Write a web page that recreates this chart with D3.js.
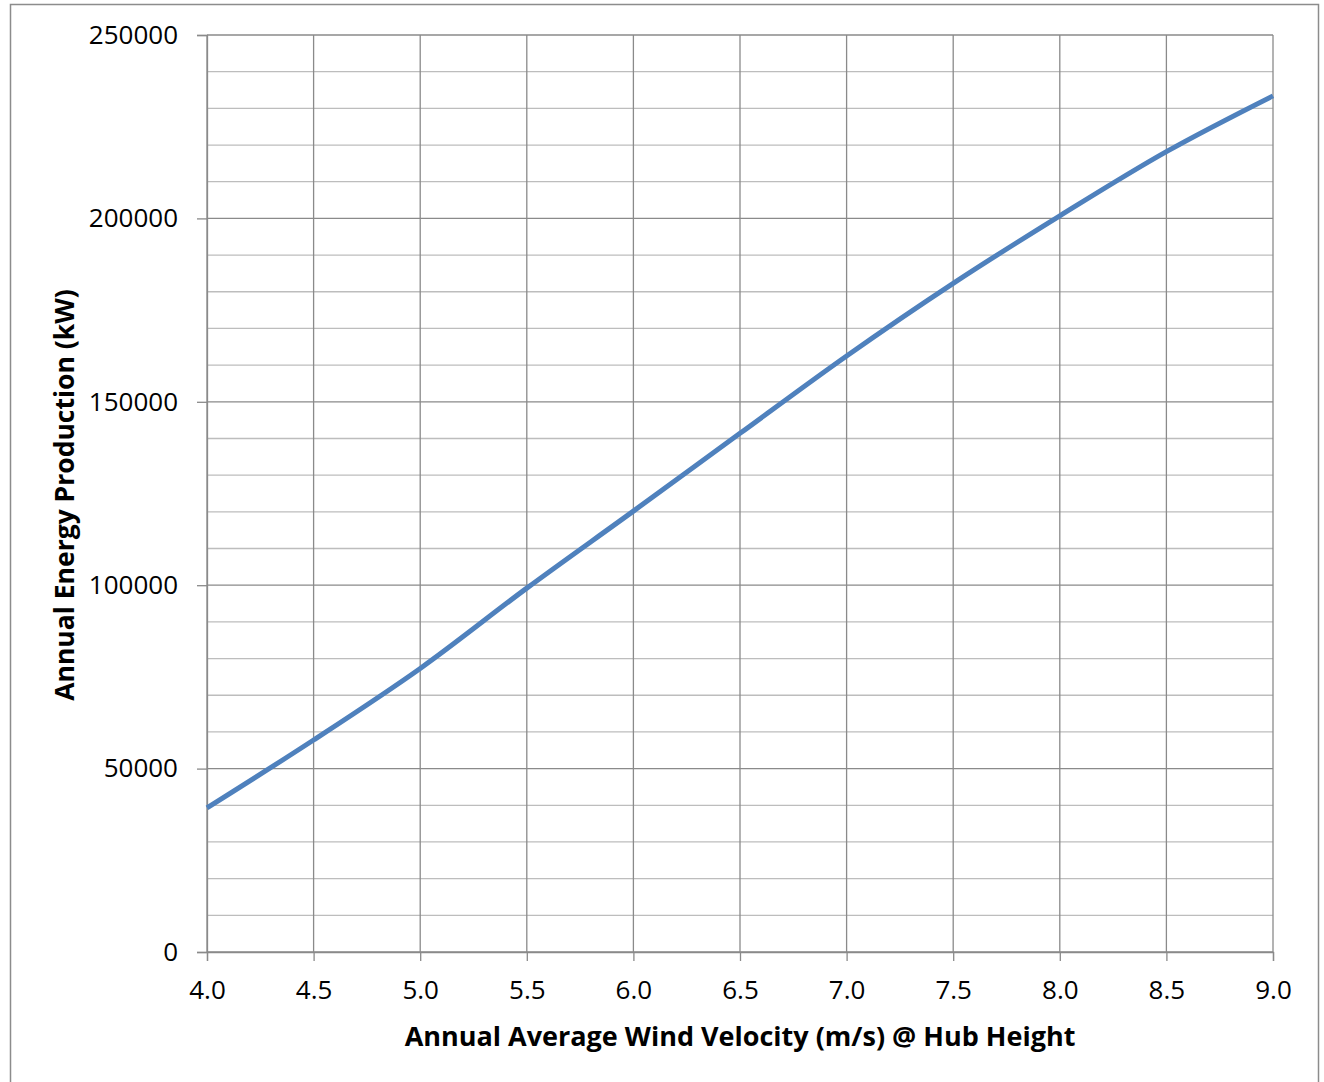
<!DOCTYPE html>
<html><head><meta charset="utf-8">
<script src="https://cdn.jsdelivr.net/npm/d3@7"></script>
<style>body{margin:0;background:#fff;} svg{display:block;}</style>
</head><body>
<script>
const velocity = [4.0, 4.5, 5.0, 5.5, 6.0, 6.5, 7.0, 7.5, 8.0, 8.5, 9.0];
const energy = [39300, 57800, 77300, 99200, 120200, 141400, 162500, 182300, 200700, 218200, 233400];
const xTicks = [4.0, 4.5, 5.0, 5.5, 6.0, 6.5, 7.0, 7.5, 8.0, 8.5, 9.0];
const yTicks = [0, 50000, 100000, 150000, 200000, 250000];
const yMinorTicks = d3.range(0, 250001, 10000);
const xTitle = "Annual Average Wind Velocity (m/s) @ Hub Height";
const yTitle = "Annual Energy Production (kW)";

const W = 1324, H = 1082;
const svg = d3.select("body").append("svg").attr("width", W).attr("height", H);
svg.append("rect").attr("x", 10.5).attr("y", 4.5).attr("width", 1308).attr("height", 1090)
  .attr("fill", "#fff").attr("stroke", "#8c8c8c").attr("stroke-width", 1.5);

const L = 207, R = 1273, T = 35, B = 952;
const x = d3.scaleLinear().domain([4, 9]).range([L, R]);
const y = d3.scaleLinear().domain([0, 250000]).range([B, T]);
const font = "'Open Sans', sans-serif";

// minor gridlines
svg.append("g").selectAll("line").data(yMinorTicks.filter(v => v % 50000 !== 0)).join("line")
  .attr("x1", L).attr("x2", R).attr("y1", d => y(d)).attr("y2", d => y(d))
  .attr("stroke", "#bdbdbd").attr("stroke-width", 1.3);

// vertical major gridlines
svg.append("g").selectAll("line").data(xTicks).join("line")
  .attr("x1", d => x(d)).attr("x2", d => x(d)).attr("y1", T).attr("y2", B)
  .attr("stroke", "#8a8a8a").attr("stroke-width", 1.3);

// horizontal major gridlines
svg.append("g").selectAll("line").data(yTicks).join("line")
  .attr("x1", L).attr("x2", R).attr("y1", d => y(d)).attr("y2", d => y(d))
  .attr("stroke", "#8a8a8a").attr("stroke-width", 1.3);

// Y axis
const yAxis = svg.append("g").attr("transform", `translate(${L},0)`)
  .call(d3.axisLeft(y).tickValues(yTicks).tickSize(10).tickPadding(19).tickFormat(d3.format("d")));
yAxis.select(".domain").attr("stroke", "#8a8a8a").attr("stroke-width", 1.3);
yAxis.selectAll(".tick line").attr("stroke", "#8a8a8a").attr("stroke-width", 1.3);
yAxis.selectAll("text").attr("font-family", font).attr("font-size", 26).attr("fill", "#000");

// X axis
const xAxis = svg.append("g").attr("transform", `translate(0,${B})`)
  .call(d3.axisBottom(x).tickValues(xTicks).tickSize(9).tickPadding(20).tickFormat(d3.format(".1f")));
xAxis.select(".domain").attr("stroke", "#8a8a8a").attr("stroke-width", 1.3);
xAxis.selectAll(".tick line").attr("stroke", "#8a8a8a").attr("stroke-width", 1.3);
xAxis.selectAll("text").attr("font-family", font).attr("font-size", 26).attr("fill", "#000");

// line
const line = d3.line().x((d, i) => x(velocity[i])).y(d => y(d)).curve(d3.curveCatmullRom.alpha(0.5));
svg.append("path").datum(energy).attr("d", line).attr("fill", "none")
  .attr("stroke", "#4F81BD").attr("stroke-width", 5).attr("stroke-linejoin", "round");

// titles
svg.append("text").attr("x", 740).attr("y", 1046).attr("text-anchor", "middle")
  .attr("font-family", font).attr("font-weight", "bold").attr("font-size", 27).text(xTitle);
svg.append("text").attr("transform", `translate(74,495) rotate(-90)`).attr("text-anchor", "middle")
  .attr("font-family", font).attr("font-weight", "bold").attr("font-size", 26.5).text(yTitle);
</script>
</body></html>
